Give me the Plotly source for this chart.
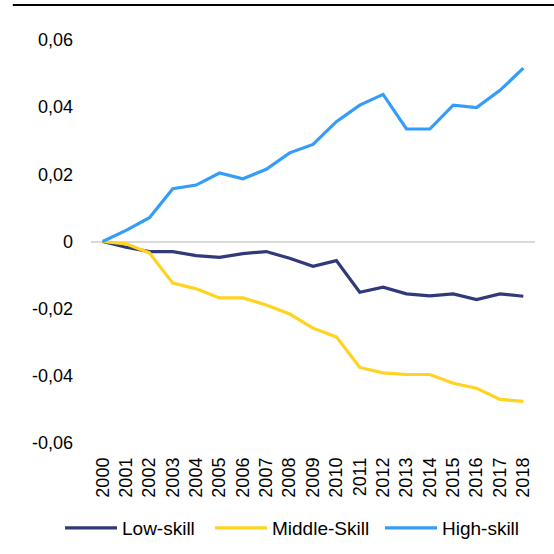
import plotly.graph_objects as go

years = [str(y) for y in range(2000, 2019)]
low_skill = [0.0, -0.0017, -0.003, -0.003, -0.0042, -0.0047, -0.0036, -0.003, -0.005, -0.0074,
             -0.0057, -0.0151, -0.0136, -0.0156, -0.0162, -0.0156, -0.0173, -0.0156, -0.0163]
middle_skill = [0.0, -0.0007, -0.0034, -0.0124, -0.0141, -0.0168, -0.0168, -0.0189, -0.0216, -0.0258,
                -0.0284, -0.0375, -0.0391, -0.0396, -0.0396, -0.0422, -0.0437, -0.047, -0.0476]
high_skill = [0.0, 0.0033, 0.0071, 0.0157, 0.0168, 0.0204, 0.0187, 0.0215, 0.0264, 0.0289,
              0.0357, 0.0406, 0.0438, 0.0335, 0.0335, 0.0406, 0.0399, 0.045, 0.0516]
y_tickvals = [0.06, 0.04, 0.02, 0, -0.02, -0.04, -0.06]
y_ticktext = ["0,06", "0,04", "0,02", "0", "-0,02", "-0,04", "-0,06"]

fig = go.Figure()
fig.add_trace(go.Scatter(x=years, y=low_skill, name="Low-skill", mode="lines",
                         line=dict(color="#303A7A", width=3.2), legend="legend"))
fig.add_trace(go.Scatter(x=years, y=middle_skill, name="Middle-Skill", mode="lines",
                         line=dict(color="#FFD321", width=3.2), legend="legend2"))
fig.add_trace(go.Scatter(x=years, y=high_skill, name="High-skill", mode="lines",
                         line=dict(color="#359CFA", width=3.2), legend="legend3"))

def leg(xpx):
    return dict(orientation="h", xref="container", yref="container",
                x=xpx / 554, xanchor="left", y=1 - 528 / 554, yanchor="middle",
                font=dict(size=19), itemwidth=52, bgcolor="rgba(0,0,0,0)")

fig.update_layout(
    width=554, height=554,
    showlegend=True,
    margin=dict(l=91, r=19, t=40, b=111, autoexpand=False),
    paper_bgcolor="white", plot_bgcolor="white",
    font=dict(family="Liberation Sans, Arial, sans-serif", size=18, color="#000000"),
    xaxis=dict(type="category", range=[-0.5, 18.5], tickangle=-90, showgrid=False,
               zeroline=False, showline=False, ticks="", ticklabelstandoff=10,
               tickfont=dict(size=18), automargin=False),
    yaxis=dict(range=[-0.06, 0.06], tickvals=y_tickvals, ticktext=y_ticktext,
               showgrid=False, zeroline=True, zerolinecolor="#D9D9D9", zerolinewidth=2,
               showline=False, ticks="", ticklabelstandoff=17, tickfont=dict(size=18),
               automargin=False),
    legend=leg(60), legend2=leg(210), legend3=leg(380),
    shapes=[dict(type="line", xref="paper", yref="paper", x0=-0.176, x1=1.05,
                 y0=1.087, y1=1.087, line=dict(color="black", width=2))],
)

fig.write_html("out.html", config={"displayModeBar": False},
               post_script="document.body.style.margin='0';document.body.style.padding='0';")
